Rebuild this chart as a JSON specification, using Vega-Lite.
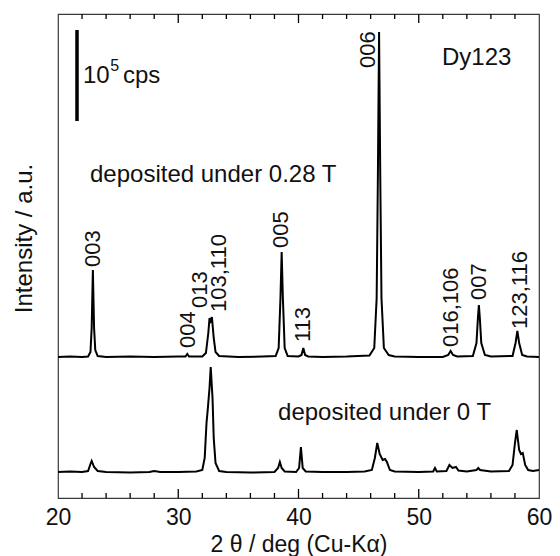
{
  "$schema": "https://vega.github.io/schema/vega-lite/v6.json",
  "width": 481,
  "height": 484,
  "autosize": "none",
  "padding": {"left": 58, "top": 14, "right": 21, "bottom": 58},
  "config": {
    "font": "Liberation Sans",
    "view": {"stroke": "#3a3a3a", "strokeWidth": 1.2},
    "axis": {"grid": false, "domain": false, "labelColor": "#111", "titleColor": "#111", "labelFont": "Liberation Sans", "titleFont": "Liberation Sans", "titleFontWeight": "normal"}
  },
  "datasets": {
    "trace": [
      {"t": 20.0, "i": 141, "s": "0.28 T"}, {"t": 21.0, "i": 141.5, "s": "0.28 T"}, {"t": 22.0, "i": 141, "s": "0.28 T"}, {"t": 22.5, "i": 141.5, "s": "0.28 T"},
      {"t": 22.7, "i": 146, "s": "0.28 T"}, {"t": 22.8, "i": 170, "s": "0.28 T"}, {"t": 22.9, "i": 228, "s": "0.28 T"}, {"t": 23.0, "i": 170, "s": "0.28 T"},
      {"t": 23.1, "i": 148, "s": "0.28 T"}, {"t": 23.3, "i": 142, "s": "0.28 T"}, {"t": 24.0, "i": 141, "s": "0.28 T"}, {"t": 26.0, "i": 141.5, "s": "0.28 T"},
      {"t": 28.0, "i": 141, "s": "0.28 T"}, {"t": 30.0, "i": 141.5, "s": "0.28 T"}, {"t": 30.6, "i": 141.5, "s": "0.28 T"}, {"t": 30.75, "i": 144, "s": "0.28 T"},
      {"t": 30.9, "i": 141.5, "s": "0.28 T"}, {"t": 32.0, "i": 141.5, "s": "0.28 T"}, {"t": 32.3, "i": 145, "s": "0.28 T"}, {"t": 32.5, "i": 165, "s": "0.28 T"},
      {"t": 32.6, "i": 180, "s": "0.28 T"}, {"t": 32.7, "i": 177, "s": "0.28 T"}, {"t": 32.8, "i": 181, "s": "0.28 T"}, {"t": 32.95, "i": 160, "s": "0.28 T"},
      {"t": 33.1, "i": 146, "s": "0.28 T"}, {"t": 33.4, "i": 142, "s": "0.28 T"}, {"t": 35.0, "i": 141, "s": "0.28 T"}, {"t": 37.0, "i": 141.5, "s": "0.28 T"},
      {"t": 38.1, "i": 142, "s": "0.28 T"}, {"t": 38.35, "i": 150, "s": "0.28 T"}, {"t": 38.5, "i": 200, "s": "0.28 T"}, {"t": 38.6, "i": 246, "s": "0.28 T"},
      {"t": 38.7, "i": 200, "s": "0.28 T"}, {"t": 38.85, "i": 150, "s": "0.28 T"}, {"t": 39.1, "i": 142, "s": "0.28 T"}, {"t": 40.0, "i": 141.5, "s": "0.28 T"},
      {"t": 40.25, "i": 143, "s": "0.28 T"}, {"t": 40.4, "i": 150, "s": "0.28 T"}, {"t": 40.55, "i": 143, "s": "0.28 T"}, {"t": 40.8, "i": 141.5, "s": "0.28 T"},
      {"t": 42.0, "i": 141, "s": "0.28 T"}, {"t": 44.0, "i": 141.5, "s": "0.28 T"}, {"t": 45.9, "i": 142.5, "s": "0.28 T"}, {"t": 46.3, "i": 150, "s": "0.28 T"},
      {"t": 46.5, "i": 200, "s": "0.28 T"}, {"t": 46.6, "i": 320, "s": "0.28 T"}, {"t": 46.7, "i": 466, "s": "0.28 T"}, {"t": 46.8, "i": 320, "s": "0.28 T"},
      {"t": 46.9, "i": 200, "s": "0.28 T"}, {"t": 47.1, "i": 150, "s": "0.28 T"}, {"t": 47.5, "i": 143, "s": "0.28 T"}, {"t": 48.0, "i": 141.5, "s": "0.28 T"},
      {"t": 50.0, "i": 141, "s": "0.28 T"}, {"t": 52.0, "i": 141, "s": "0.28 T"}, {"t": 52.45, "i": 143, "s": "0.28 T"}, {"t": 52.65, "i": 147, "s": "0.28 T"},
      {"t": 52.85, "i": 143, "s": "0.28 T"}, {"t": 53.2, "i": 141.5, "s": "0.28 T"}, {"t": 54.5, "i": 142, "s": "0.28 T"}, {"t": 54.8, "i": 155, "s": "0.28 T"},
      {"t": 54.92, "i": 180, "s": "0.28 T"}, {"t": 55.0, "i": 193, "s": "0.28 T"}, {"t": 55.08, "i": 180, "s": "0.28 T"}, {"t": 55.2, "i": 155, "s": "0.28 T"},
      {"t": 55.5, "i": 143, "s": "0.28 T"}, {"t": 56.0, "i": 141.5, "s": "0.28 T"}, {"t": 57.8, "i": 142, "s": "0.28 T"}, {"t": 58.05, "i": 155, "s": "0.28 T"},
      {"t": 58.2, "i": 167, "s": "0.28 T"}, {"t": 58.35, "i": 155, "s": "0.28 T"}, {"t": 58.6, "i": 143, "s": "0.28 T"}, {"t": 59.0, "i": 141.5, "s": "0.28 T"},
      {"t": 60.0, "i": 141, "s": "0.28 T"},
      {"t": 20.0, "i": 26, "s": "0 T"}, {"t": 21.0, "i": 26.5, "s": "0 T"}, {"t": 22.0, "i": 26, "s": "0 T"}, {"t": 22.5, "i": 27, "s": "0 T"},
      {"t": 22.7, "i": 34, "s": "0 T"}, {"t": 22.8, "i": 37, "s": "0 T"}, {"t": 23.0, "i": 31, "s": "0 T"}, {"t": 23.3, "i": 27, "s": "0 T"},
      {"t": 24.0, "i": 26, "s": "0 T"}, {"t": 26.0, "i": 25.5, "s": "0 T"}, {"t": 27.6, "i": 26, "s": "0 T"}, {"t": 28.0, "i": 27, "s": "0 T"},
      {"t": 28.5, "i": 26, "s": "0 T"}, {"t": 30.0, "i": 26, "s": "0 T"}, {"t": 31.5, "i": 26.5, "s": "0 T"}, {"t": 32.0, "i": 28, "s": "0 T"},
      {"t": 32.2, "i": 40, "s": "0 T"}, {"t": 32.35, "i": 75, "s": "0 T"}, {"t": 32.45, "i": 88, "s": "0 T"}, {"t": 32.6, "i": 110, "s": "0 T"},
      {"t": 32.7, "i": 131, "s": "0 T"}, {"t": 32.85, "i": 100, "s": "0 T"}, {"t": 32.95, "i": 60, "s": "0 T"}, {"t": 33.1, "i": 35, "s": "0 T"},
      {"t": 33.4, "i": 27, "s": "0 T"}, {"t": 34.0, "i": 26, "s": "0 T"}, {"t": 36.0, "i": 25.5, "s": "0 T"}, {"t": 38.0, "i": 26, "s": "0 T"},
      {"t": 38.3, "i": 30, "s": "0 T"}, {"t": 38.45, "i": 36, "s": "0 T"}, {"t": 38.6, "i": 30, "s": "0 T"}, {"t": 38.85, "i": 26.5, "s": "0 T"},
      {"t": 39.8, "i": 26, "s": "0 T"}, {"t": 40.05, "i": 30, "s": "0 T"}, {"t": 40.2, "i": 51, "s": "0 T"}, {"t": 40.35, "i": 30, "s": "0 T"},
      {"t": 40.6, "i": 26.5, "s": "0 T"}, {"t": 42.0, "i": 26, "s": "0 T"}, {"t": 44.0, "i": 26, "s": "0 T"}, {"t": 45.5, "i": 26.5, "s": "0 T"},
      {"t": 46.1, "i": 28, "s": "0 T"}, {"t": 46.35, "i": 40, "s": "0 T"}, {"t": 46.55, "i": 55, "s": "0 T"}, {"t": 46.75, "i": 44, "s": "0 T"},
      {"t": 47.0, "i": 38, "s": "0 T"}, {"t": 47.2, "i": 39, "s": "0 T"}, {"t": 47.35, "i": 36, "s": "0 T"}, {"t": 47.6, "i": 28, "s": "0 T"},
      {"t": 48.0, "i": 26.5, "s": "0 T"}, {"t": 50.0, "i": 26, "s": "0 T"}, {"t": 51.2, "i": 26.5, "s": "0 T"}, {"t": 51.35, "i": 30, "s": "0 T"},
      {"t": 51.5, "i": 26.5, "s": "0 T"}, {"t": 52.3, "i": 27, "s": "0 T"}, {"t": 52.55, "i": 33, "s": "0 T"}, {"t": 52.8, "i": 30, "s": "0 T"},
      {"t": 53.1, "i": 31, "s": "0 T"}, {"t": 53.3, "i": 27.5, "s": "0 T"}, {"t": 54.0, "i": 26.5, "s": "0 T"}, {"t": 54.8, "i": 28, "s": "0 T"},
      {"t": 54.95, "i": 30, "s": "0 T"}, {"t": 55.1, "i": 28, "s": "0 T"}, {"t": 56.0, "i": 26.5, "s": "0 T"}, {"t": 57.5, "i": 27, "s": "0 T"},
      {"t": 57.8, "i": 33, "s": "0 T"}, {"t": 58.0, "i": 55, "s": "0 T"}, {"t": 58.15, "i": 68, "s": "0 T"}, {"t": 58.35, "i": 48, "s": "0 T"},
      {"t": 58.5, "i": 44, "s": "0 T"}, {"t": 58.65, "i": 45, "s": "0 T"}, {"t": 58.85, "i": 33, "s": "0 T"}, {"t": 59.1, "i": 28, "s": "0 T"},
      {"t": 59.5, "i": 27, "s": "0 T"}, {"t": 60.0, "i": 28, "s": "0 T"}
    ],
    "peaks": [
      {"t": 22.9, "i": 231, "label": "003"},
      {"t": 30.8, "i": 150, "label": "004"},
      {"t": 31.8, "i": 190, "label": "013"},
      {"t": 33.4, "i": 186, "label": "103,110"},
      {"t": 38.55, "i": 250, "label": "005"},
      {"t": 40.4, "i": 156, "label": "113"},
      {"t": 45.8, "i": 430, "label": "006"},
      {"t": 52.7, "i": 151, "label": "016,106"},
      {"t": 55.0, "i": 198, "label": "007"},
      {"t": 58.4, "i": 169, "label": "123,116"}
    ],
    "notes": [
      {"t": 22.08, "i": 415, "label": "10"},
      {"t": 25.4, "i": 415, "label": "cps"},
      {"t": 22.66, "i": 316, "label": "deposited under 0.28 T"},
      {"t": 38.3, "i": 78, "label": "deposited under 0 T"},
      {"t": 51.93, "i": 433, "label": "Dy123"}
    ],
    "sup": [
      {"t": 24.35, "i": 427, "label": "5"}
    ],
    "bar": [
      {"t": 21.58, "i": 377, "i2": 468}
    ],
    "ticks": [
      {"t": 30, "a": 0, "b": 9}, {"t": 40, "a": 0, "b": 9}, {"t": 50, "a": 0, "b": 9},
      {"t": 22, "a": 0, "b": 5}, {"t": 24, "a": 0, "b": 5}, {"t": 26, "a": 0, "b": 5}, {"t": 28, "a": 0, "b": 5},
      {"t": 32, "a": 0, "b": 5}, {"t": 34, "a": 0, "b": 5}, {"t": 36, "a": 0, "b": 5}, {"t": 38, "a": 0, "b": 5},
      {"t": 42, "a": 0, "b": 5}, {"t": 44, "a": 0, "b": 5}, {"t": 46, "a": 0, "b": 5}, {"t": 48, "a": 0, "b": 5},
      {"t": 52, "a": 0, "b": 5}, {"t": 54, "a": 0, "b": 5}, {"t": 56, "a": 0, "b": 5}, {"t": 58, "a": 0, "b": 5},
      {"t": 30, "a": 475, "b": 484}, {"t": 40, "a": 475, "b": 484}, {"t": 50, "a": 475, "b": 484},
      {"t": 22, "a": 479, "b": 484}, {"t": 24, "a": 479, "b": 484}, {"t": 26, "a": 479, "b": 484}, {"t": 28, "a": 479, "b": 484},
      {"t": 32, "a": 479, "b": 484}, {"t": 34, "a": 479, "b": 484}, {"t": 36, "a": 479, "b": 484}, {"t": 38, "a": 479, "b": 484},
      {"t": 42, "a": 479, "b": 484}, {"t": 44, "a": 479, "b": 484}, {"t": 46, "a": 479, "b": 484}, {"t": 48, "a": 479, "b": 484},
      {"t": 52, "a": 479, "b": 484}, {"t": 54, "a": 479, "b": 484}, {"t": 56, "a": 479, "b": 484}, {"t": 58, "a": 479, "b": 484}
    ]
  },
  "layer": [
    {
      "data": {"name": "trace"},
      "mark": {"type": "line", "color": "#000", "strokeWidth": 2, "interpolate": "linear"},
      "encoding": {
        "x": {"field": "t", "type": "quantitative", "scale": {"domain": [20, 60], "nice": false},
              "axis": {"orient": "bottom", "values": [20, 30, 40, 50, 60], "ticks": false, "tickSize": 0, "labelFontSize": 23, "labelPadding": 8, "labelFlush": false,
                       "title": "2 θ / deg (Cu-Kα)", "titleFontSize": 23, "titlePadding": 4}},
        "y": {"field": "i", "type": "quantitative", "scale": {"domain": [0, 484], "nice": false},
              "axis": {"orient": "left", "ticks": false, "labels": false, "title": "Intensity / a.u.", "titleFontSize": 24, "titlePadding": 22, "titleY": 224}},
        "detail": {"field": "s", "type": "nominal"}
      }
    },
    {
      "data": {"name": "ticks"},
      "mark": {"type": "rule", "color": "#000", "strokeWidth": 1.3},
      "encoding": {
        "x": {"field": "t", "type": "quantitative", "scale": {"domain": [20, 60], "nice": false}, "axis": null},
        "y": {"field": "a", "type": "quantitative", "scale": {"domain": [0, 484], "nice": false}, "axis": null},
        "y2": {"field": "b"}
      }
    },
    {
      "data": {"name": "peaks"},
      "mark": {"type": "text", "angle": 270, "align": "left", "baseline": "middle", "fontSize": 22, "color": "#111"},
      "encoding": {
        "x": {"field": "t", "type": "quantitative", "scale": {"domain": [20, 60], "nice": false}, "axis": null},
        "y": {"field": "i", "type": "quantitative", "scale": {"domain": [0, 484], "nice": false}, "axis": null},
        "text": {"field": "label"}
      }
    },
    {
      "data": {"name": "notes"},
      "mark": {"type": "text", "align": "left", "baseline": "alphabetic", "fontSize": 24, "color": "#111"},
      "encoding": {
        "x": {"field": "t", "type": "quantitative", "scale": {"domain": [20, 60], "nice": false}, "axis": null},
        "y": {"field": "i", "type": "quantitative", "scale": {"domain": [0, 484], "nice": false}, "axis": null},
        "text": {"field": "label"}
      }
    },
    {
      "data": {"name": "sup"},
      "mark": {"type": "text", "align": "left", "baseline": "alphabetic", "fontSize": 16, "color": "#111"},
      "encoding": {
        "x": {"field": "t", "type": "quantitative", "scale": {"domain": [20, 60], "nice": false}, "axis": null},
        "y": {"field": "i", "type": "quantitative", "scale": {"domain": [0, 484], "nice": false}, "axis": null},
        "text": {"field": "label"}
      }
    },
    {
      "data": {"name": "bar"},
      "mark": {"type": "rule", "color": "#000", "strokeWidth": 3.5},
      "encoding": {
        "x": {"field": "t", "type": "quantitative", "scale": {"domain": [20, 60], "nice": false}, "axis": null},
        "y": {"field": "i", "type": "quantitative", "scale": {"domain": [0, 484], "nice": false}, "axis": null},
        "y2": {"field": "i2"}
      }
    }
  ],
  "resolve": {"axis": {"x": "independent", "y": "independent"}}
}
